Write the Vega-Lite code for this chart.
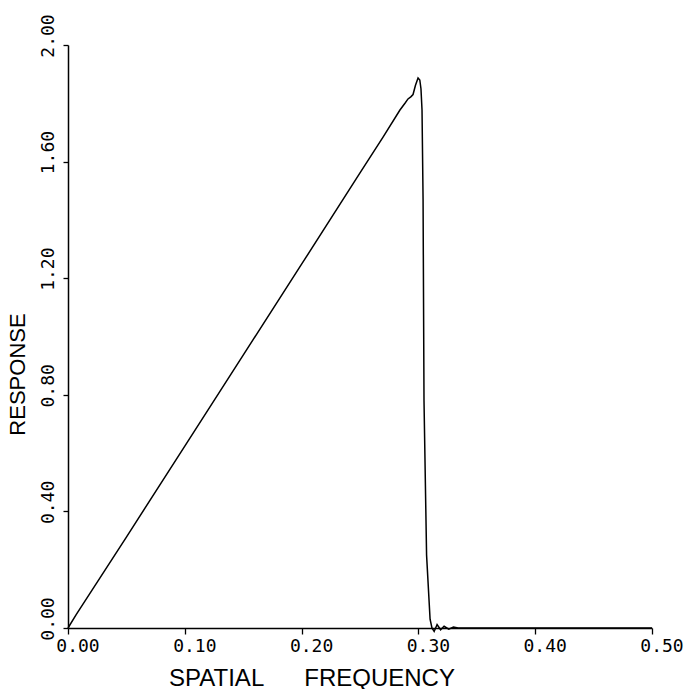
{
  "$schema": "https://vega.github.io/schema/vega-lite/v6.json",
  "autosize": {"type": "none"},
  "width": 584,
  "height": 583,
  "padding": {"left": 68, "top": 45, "right": 36, "bottom": 61},
  "background": "white",
  "config": {"view": {"stroke": null}},
  "data": {"values": [
    {"f": 0.0, "r": 0.0},
    {"f": 0.007, "r": 0.046},
    {"f": 0.05, "r": 0.312},
    {"f": 0.10, "r": 0.624},
    {"f": 0.15, "r": 0.936},
    {"f": 0.20, "r": 1.248},
    {"f": 0.25, "r": 1.561},
    {"f": 0.27, "r": 1.686},
    {"f": 0.2842, "r": 1.777},
    {"f": 0.2885, "r": 1.800},
    {"f": 0.2911, "r": 1.815},
    {"f": 0.2935, "r": 1.822},
    {"f": 0.2954, "r": 1.830},
    {"f": 0.2975, "r": 1.862},
    {"f": 0.2997, "r": 1.887},
    {"f": 0.3012, "r": 1.880},
    {"f": 0.3022, "r": 1.850},
    {"f": 0.3031, "r": 1.777},
    {"f": 0.304, "r": 1.47},
    {"f": 0.3048, "r": 0.78},
    {"f": 0.307, "r": 0.25},
    {"f": 0.310, "r": 0.03},
    {"f": 0.3116, "r": 0.0},
    {"f": 0.3135, "r": -0.012},
    {"f": 0.316, "r": 0.012},
    {"f": 0.319, "r": -0.006},
    {"f": 0.322, "r": 0.006},
    {"f": 0.326, "r": -0.004},
    {"f": 0.330, "r": 0.003},
    {"f": 0.334, "r": 0.0},
    {"f": 0.5, "r": 0.0}
  ]},
  "mark": {"type": "line", "color": "black", "strokeWidth": 1.5, "clip": false},
  "encoding": {
    "x": {
      "field": "f", "type": "quantitative",
      "scale": {"domain": [0, 0.5], "nice": false, "zero": false},
      "axis": {
        "values": [0, 0.1, 0.2, 0.3, 0.4, 0.5],
        "format": ".2f",
        "grid": false,
        "title": "SPATIAL\u00a0\u00a0\u00a0\u00a0\u00a0\u00a0FREQUENCY",
        "titleFont": "Liberation Sans",
        "titleFontSize": 24,
        "titleFontWeight": "normal",
        "titleColor": "black",
        "titleX": 243.5,
        "titleY": 50,
        "titleBaseline": "middle",
        "titleAnchor": "middle",
        "titleAlign": "center",
        "labelFont": "DejaVu Sans Mono",
        "labelFontSize": 18,
        "labelColor": "black",
        "labelOffset": 9.5,
        "labelPadding": 3,
        "labelFlush": false,
        "labelOverlap": false,
        "tickSize": 6,
        "tickColor": "black",
        "tickWidth": 1.3,
        "domainColor": "black",
        "domainWidth": 1.5
      }
    },
    "y": {
      "field": "r", "type": "quantitative",
      "scale": {"domain": [0, 2], "nice": false, "zero": false},
      "axis": {
        "values": [0, 0.4, 0.8, 1.2, 1.6, 2.0],
        "format": ".2f",
        "grid": false,
        "title": "RESPONSE",
        "titleFont": "Liberation Sans",
        "titleFontSize": 22,
        "titleFontWeight": "normal",
        "titleColor": "black",
        "titleAngle": 270,
        "titleX": -50.5,
        "titleY": 329,
        "titleBaseline": "middle",
        "titleAlign": "center",
        "labelFont": "DejaVu Sans Mono",
        "labelFontSize": 18,
        "labelColor": "black",
        "labelAngle": 270,
        "labelAlign": "center",
        "labelBaseline": "bottom",
        "labelOffset": -9.5,
        "labelPadding": 6,
        "labelFlush": false,
        "labelOverlap": false,
        "tickSize": 5,
        "tickColor": "black",
        "tickWidth": 1.3,
        "domainColor": "black",
        "domainWidth": 1.5
      }
    }
  }
}
